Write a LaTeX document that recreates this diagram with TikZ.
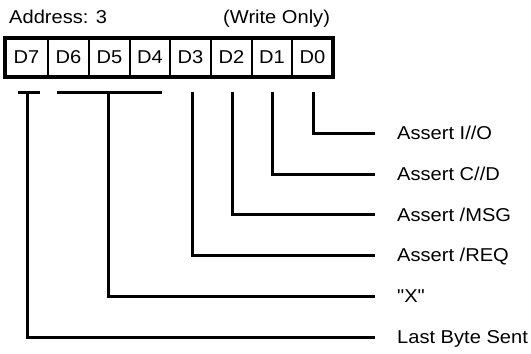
\documentclass[tikz,border=0pt]{standalone}
\usepackage{fontspec}
\setmainfont{Liberation Sans}[Ligatures=TeXOff]
\usetikzlibrary{calc}
\begin{document}
\begin{tikzpicture}[x=1pt,y=-1pt,
  basefont/.style={font=\fontsize{18.6}{22}\selectfont, inner sep=0pt, xscale=1.08},
  lbl/.style={basefont, anchor=west, text height=13.3pt, text depth=0pt},
  head/.style={basefont, anchor=base west},
  cell/.style={basefont, text height=13.3pt, text depth=0pt, minimum height=39pt},
  conn/.style={line width=3pt, line join=miter},
  div/.style={line width=2.5pt},
  reg/.style={draw, line width=4pt, minimum width=328pt, minimum height=39pt, inner sep=0pt}
]
\useasboundingbox (0,0) rectangle (531,354);

% header texts
\node[head] (addr) at (9,23.3) {Address: 3};
\node[head] (wo) at (223,23.3) {(Write Only)};

% register cells
\foreach \x in {48,89,130,170,211,252,292}
  \draw[div] (\x,37.5) -- (\x,76.5);
\node[reg] (regbox) at (169,57) {};
\node[cell] (c7) at (26.5,57) {D7};
\node[cell] (c6) at (68.5,57) {D6};
\node[cell] (c5) at (109.5,57) {D5};
\node[cell] (c4) at (150,57) {D4};
\node[cell] (c3) at (190.5,57) {D3};
\node[cell] (c2) at (231.5,57) {D2};
\node[cell] (c1) at (272,57) {D1};
\node[cell] (c0) at (312.5,57) {D0};

% labels
\node[lbl] (l0) at (397,133) {Assert I//O};
\node[lbl] (l1) at (397,174) {Assert C//D};
\node[lbl] (l2) at (397,214.5) {Assert /MSG};
\node[lbl] (l3) at (397,255) {Assert /REQ};
\node[lbl] (l4) at (397,296) {"X"};
\node[lbl] (l5) at (397,337) {Last Byte Sent};

% tick tops
\coordinate (t0) at ($(c0.south)+(0.5,15)$);
\coordinate (t1) at ($(c1.south)+(0,15)$);
\coordinate (t2) at ($(c2.south)+(0.5,15)$);
\coordinate (t3) at ($(c3.south)+(1.5,15)$);
\coordinate (t5) at ($(c5.south)+(-1.5,16)$);
\coordinate (t7) at ($(c7.south)+(0.5,16)$);

% group bars
\draw[conn] ($(c7.south)+(-8.5,16)$) -- ($(c7.south)+(13.5,16)$);
\draw[conn] ($(c6.south)+(-11.5,16)$) -- ($(c4.south)+(12,16)$);

% connectors
\draw[conn, shorten >=22pt] (t0) |- (l0.west);
\draw[conn, shorten >=22pt] (t1) |- (l1.west);
\draw[conn, shorten >=22pt] (t2) |- (l2.west);
\draw[conn, shorten >=22pt] (t3) |- (l3.west);
\draw[conn, shorten >=22pt] (t5) |- (l4.west);
\draw[conn, shorten >=22pt] (t7) |- (l5.west);
\end{tikzpicture}
\end{document}
